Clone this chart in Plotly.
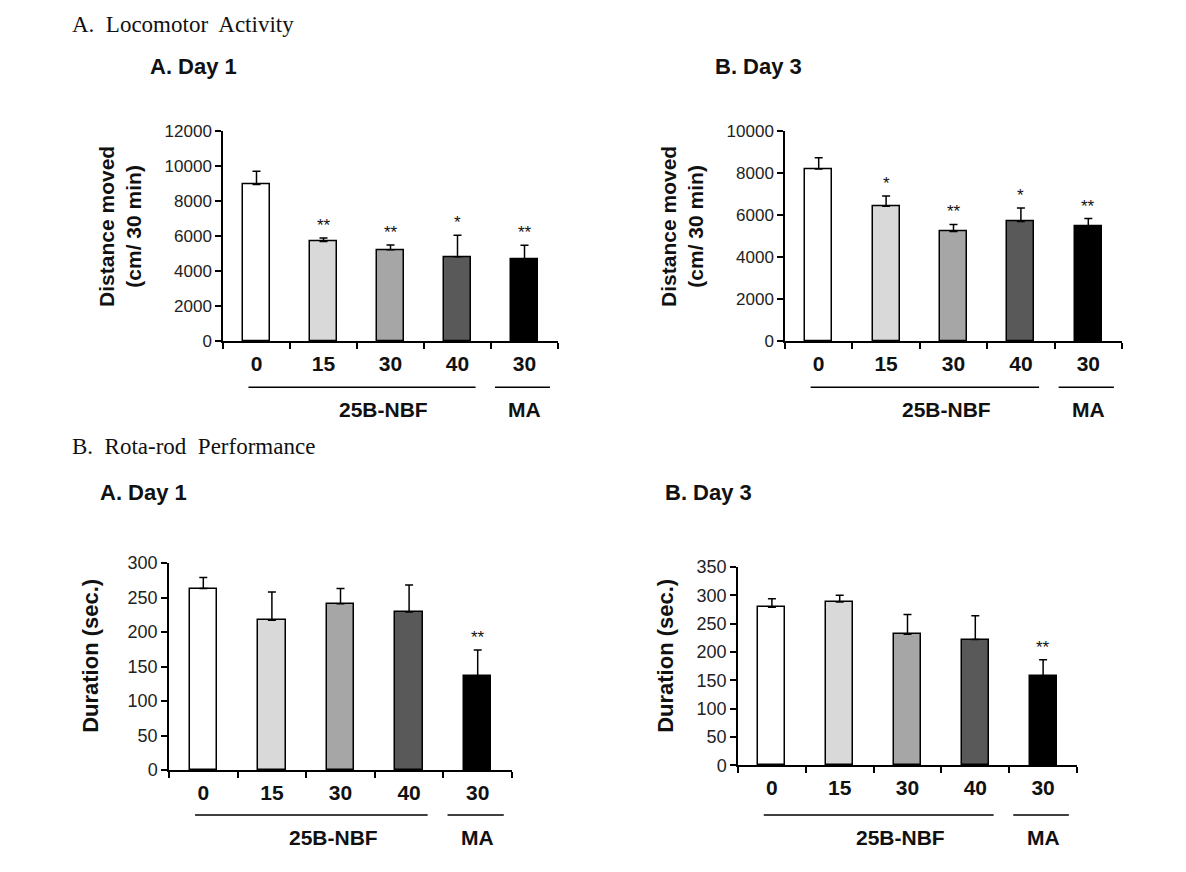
import plotly.graph_objects as go

doses = ["0", "15", "30", "40", "30"]
groups = ["25B-NBF", "MA"]
bar_colors = ["#ffffff", "#d9d9d9", "#a6a6a6", "#595959", "#000000"]

loco_day1 = [8950, 5700, 5220, 4830, 4660]
loco_day1_err = [760, 190, 280, 1230, 820]
loco_day1_sig = ["", "**", "**", "*", "**"]

loco_day3 = [8200, 6430, 5220, 5700, 5470]
loco_day3_err = [540, 480, 340, 640, 370]
loco_day3_sig = ["", "*", "**", "*", "**"]

rota_day1 = [263, 217, 241, 229, 136]
rota_day1_err = [16, 41, 22, 39, 38]
rota_day1_sig = ["", "", "", "", "**"]

rota_day3 = [279, 288, 231, 222, 157]
rota_day3_err = [15, 12, 35, 42, 29]
rota_day3_sig = ["", "", "", "", "**"]

W, H = 1186, 872
def px(x): return x / W
def py(y): return (H - y) / H

panels = [
    dict(vals=loco_day1, err=loco_day1_err, sig=loco_day1_sig, xd=[px(223), px(558)], yd=[py(339), py(124)],
         yr=[0, 12000], dt=2000, ytitle="Distance moved<br>(cm/ 30 min)", ytx=120, yty=222, ytfs=21,
         title="A. Day 1", tx=148, ty=58, liney=386, laby=409, tickfs=17),
    dict(vals=loco_day3, err=loco_day3_err, sig=loco_day3_sig, xd=[px(785), px(1122)], yd=[py(339), py(124)],
         yr=[0, 10000], dt=2000, ytitle="Distance moved<br>(cm/ 30 min)", ytx=682, yty=222, ytfs=21,
         title="B. Day 3", tx=713, ty=58, liney=386, laby=409, tickfs=17),
    dict(vals=rota_day1, err=rota_day1_err, sig=rota_day1_sig, xd=[px(169), px(512)], yd=[py(778), py(566)],
         yr=[0, 300], dt=50, ytitle="Duration (sec.)", ytx=91, yty=661, ytfs=22,
         title="A. Day 1", tx=98, ty=494, liney=824, laby=847, tickfs=18),
    dict(vals=rota_day3, err=rota_day3_err, sig=rota_day3_sig, xd=[px(738), px(1077)], yd=[py(773), py(570)],
         yr=[0, 350], dt=50, ytitle="Duration (sec.)", ytx=666, yty=661, ytfs=22,
         title="B. Day 3", tx=663, ty=494, liney=824, laby=847, tickfs=18),
]

fig = go.Figure()
annotations = []
shapes = []
xpos = list(range(len(doses)))

for i, p in enumerate(panels):
    n = "" if i == 0 else str(i + 1)
    fig.add_trace(go.Bar(
        x=xpos, y=p["vals"], width=0.4,
        marker=dict(color=bar_colors, line=dict(color="black", width=1.5)),
        error_y=dict(type="data", array=p["err"], arrayminus=[0] * len(doses), symmetric=False,
                     width=4, thickness=1.5, color="black"),
        xaxis="x" + n, yaxis="y" + n, showlegend=False, hoverinfo="skip"))
    fig.layout["xaxis" + n] = dict(
        domain=p["xd"], anchor="y" + n, range=[-0.5, 4.5], showgrid=False, zeroline=False,
        showline=True, linecolor="black", linewidth=1.5,
        tickmode="array", tickvals=xpos, ticktext=["<b>" + d + "</b>" for d in doses], ticks="",
        ticklabelstandoff=3,
        tickfont=dict(family="Liberation Sans, Arial", size=21, color="#111"),
        minor=dict(tick0=-0.5, dtick=1, ticks="outside", ticklen=6, tickwidth=1.5, tickcolor="black"),
        fixedrange=True)
    fig.layout["yaxis" + n] = dict(
        domain=p["yd"], anchor="x" + n, range=p["yr"], dtick=p["dt"], tickformat="d",
        showgrid=False, zeroline=False,
        showline=True, linecolor="black", linewidth=1.5, ticks="outside", ticklen=6, tickwidth=1.5,
        tickcolor="black", tickfont=dict(family="Liberation Sans, Arial", size=p["tickfs"], color="#222"),
        fixedrange=True)
    # significance marks
    for j, s in enumerate(p["sig"]):
        if s:
            annotations.append(dict(x=xpos[j], y=p["vals"][j] + p["err"][j], xref="x" + n, yref="y" + n,
                                    text=s, showarrow=False, yanchor="bottom", yshift=1,
                                    font=dict(family="Liberation Sans, Arial", size=17, color="#111")))
    # y title (bold)
    annotations.append(dict(x=px(p["ytx"]), y=py(p["yty"]), xref="paper", yref="paper",
                            text="<b>" + p["ytitle"].replace("<br>", "</b><br><b>") + "</b>",
                            textangle=-90, showarrow=False, xanchor="center", yanchor="middle",
                            font=dict(family="Liberation Sans, Arial", size=p["ytfs"], color="#111")))
    # panel title
    annotations.append(dict(x=px(p["tx"]), y=py(p["ty"]), xref="paper", yref="paper",
                            text="<b>" + p["title"] + "</b>",
                            showarrow=False, xanchor="left", yanchor="middle",
                            font=dict(family="Liberation Sans, Arial", size=22, color="#111")))
    # group underline lines
    for x0, x1 in [(-0.12, 3.27), (3.56, 4.38)]:
        shapes.append(dict(type="line", xref="x" + n, yref="paper", x0=x0, x1=x1,
                           y0=py(p["liney"]), y1=py(p["liney"]), line=dict(color="black", width=1.5)))
    for gx, g in zip([1.9, 4.0], groups):
        annotations.append(dict(x=gx, y=py(p["laby"]), xref="x" + n, yref="paper", text="<b>" + g + "</b>",
                                showarrow=False, xanchor="center", yanchor="middle",
                                font=dict(family="Liberation Sans, Arial", size=21, color="#111")))

annotations.append(dict(x=px(70), y=py(15), xref="paper", yref="paper", text="A.  Locomotor  Activity",
                        showarrow=False, xanchor="left", yanchor="middle",
                        font=dict(family="Liberation Serif, Times New Roman", size=23, color="#111")))
annotations.append(dict(x=px(70), y=py(447), xref="paper", yref="paper", text="B.  Rota-rod  Performance",
                        showarrow=False, xanchor="left", yanchor="middle",
                        font=dict(family="Liberation Serif, Times New Roman", size=23, color="#111")))

fig.update_layout(width=W, height=H, margin=dict(l=0, r=0, t=0, b=0), paper_bgcolor="white",
                  plot_bgcolor="white", annotations=annotations, shapes=shapes, showlegend=False,
                  bargap=0)
fig.write_html("out.html")
